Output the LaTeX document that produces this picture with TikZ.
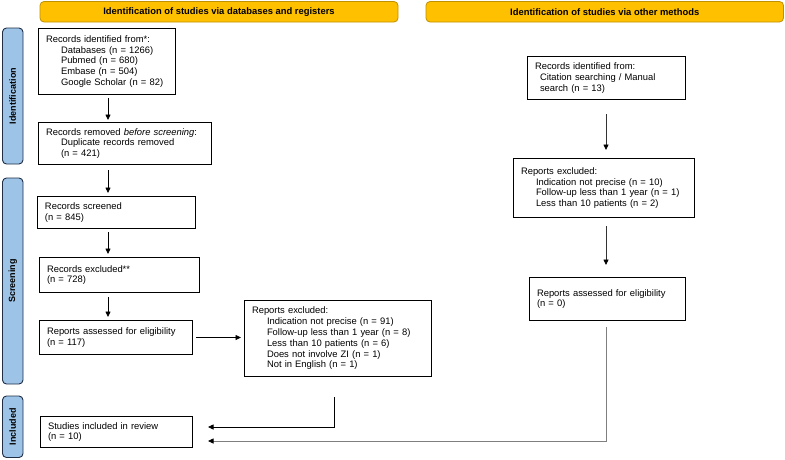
\documentclass[tikz,border=0pt]{standalone}
\usepackage{fontspec}
\setmainfont{Liberation Sans}
\usetikzlibrary{arrows.meta}
\definecolor{hdrfill}{HTML}{FFC000}
\definecolor{hdrdraw}{HTML}{BF9000}
\definecolor{barfill}{HTML}{9DC3E6}
\definecolor{bardraw}{HTML}{1F2D45}
\definecolor{linegray}{HTML}{7F7F7F}
\newcommand{\ind}{\hspace*{15pt}}
\tikzset{
  txt/.style={font=\fontsize{9.4}{10.8}\selectfont},
  hdr/.style={draw=hdrdraw, fill=hdrfill, line width=0.8pt, rounded corners=4pt},
  bar/.style={draw=bardraw, fill=barfill, line width=0.9pt, rounded corners=4pt},
  barlabel/.style={rotate=90, font=\fontsize{9}{10}\selectfont\bfseries},
  hdrlabel/.style={font=\fontsize{9.4}{10.8}\selectfont\bfseries},
  bx/.style n args={3}{draw=black, line width=1pt, fill=white, anchor=north west,
    inner xsep=7.5pt, inner ysep=0pt, align=left, txt,
    minimum width=#1pt, minimum height=#2pt, text width=#3pt},
  arr/.style={line width=0.8pt, -{Triangle[length=5.5pt,width=5pt,color=black]}},
}
\begin{document}
\begin{tikzpicture}[x=1pt,y=-1pt]
\useasboundingbox (0,0) rectangle (785,459);
% headers
\draw[hdr] (40,1.5) rectangle (398,22) node[midway, hdrlabel] (h1) {Identification of studies via databases and registers};
\draw[hdr] (426,1.5) rectangle (783.5,22) node[midway, hdrlabel] (h2) {Identification of studies via other methods};
% side bars
\draw[bar] (2.5,28) rectangle (23,164) node[midway, barlabel] (s1) {Identification};
\draw[bar] (2.5,178) rectangle (23,384) node[midway, barlabel] (s2) {Screening};
\draw[bar] (2.5,396) rectangle (23,457.5) node[midway, barlabel] (s3) {Included};
% left column boxes
\node[bx={137}{66}{122}] (idA) at (38,28) {Records identified from*:\\\ind Databases (n = 1266)\\\ind Pubmed (n = 680)\\\ind Embase (n = 504)\\\ind Google Scholar (n = 82)};
\node[bx={173}{42}{158}] (remA) at (38,122) {Records removed \textit{before screening}:\\\ind Duplicate records removed\\\ind (n = 421)};
\node[bx={158}{32}{143}] (scrA) at (37,196) {Records screened\\(n = 845)};
\node[bx={160}{35}{145}] (excA) at (39,257) {Records excluded**\\(n = 728)};
\node[bx={153}{34}{138}] (assA) at (39,320) {Reports assessed for eligibility\\(n = 117)};
\node[bx={187}{76}{172}] (repA) at (244,300) {Reports excluded:\\\ind Indication not precise (n = 91)\\\ind Follow-up less than 1 year (n = 8)\\\ind Less than 10 patients (n = 6)\\\ind Does not involve ZI (n = 1)\\\ind Not in English (n = 1)};
\node[bx={152}{31}{137}] (stud) at (40,416) {Studies included in review\\(n = 10)};
% right column boxes
\node[bx={158}{43}{143}] (idB) at (527,56) {Records identified from:\\\hspace*{5pt}Citation searching / Manual\\\hspace*{5pt}search (n = 13)};
\node[bx={181}{59}{166}] (repB) at (513,158) {Reports excluded:\\\ind Indication not precise (n = 10)\\\ind Follow-up less than 1 year (n = 1)\\\ind Less than 10 patients (n = 2)};
\node[bx={156}{43}{141}] (assB) at (529,277) {Reports assessed for eligibility\\(n = 0)};
% helper coordinates
\coordinate (ax) at (108,0);
\coordinate (bx) at (606,0);
\coordinate (cx) at (334,0);
\coordinate (tA) at (208,427);
\coordinate (tB) at (208,441);
% connectors left
\draw[arr, shorten <=3pt, shorten >=2pt] (idA.south -| ax) -- (remA.north -| ax);
\draw[arr, shorten <=5pt, shorten >=3pt] (remA.south -| ax) -- (scrA.north -| ax);
\draw[arr, shorten <=3pt, shorten >=3pt] (scrA.south -| ax) -- (excA.north -| ax);
\draw[arr, shorten <=4pt, shorten >=3pt] (excA.south -| ax) -- (assA.north -| ax);
\draw[arr, shorten <=3pt, shorten >=3pt] (assA.east) -- (assA.east -| repA.west);
\draw[arr, shorten <=20pt] (repA.south -| cx) |- (tA);
% connectors right
\draw[arr, draw=black!80, shorten <=14pt, shorten >=8pt] (idB.south -| bx) -- (repB.north -| bx);
\draw[arr, draw=black!80, shorten <=8pt, shorten >=12pt] (repB.south -| bx) -- (assB.north -| bx);
\draw[arr, draw=linegray, shorten <=6pt] (assB.south -| bx) |- (tB);
\end{tikzpicture}
\end{document}
